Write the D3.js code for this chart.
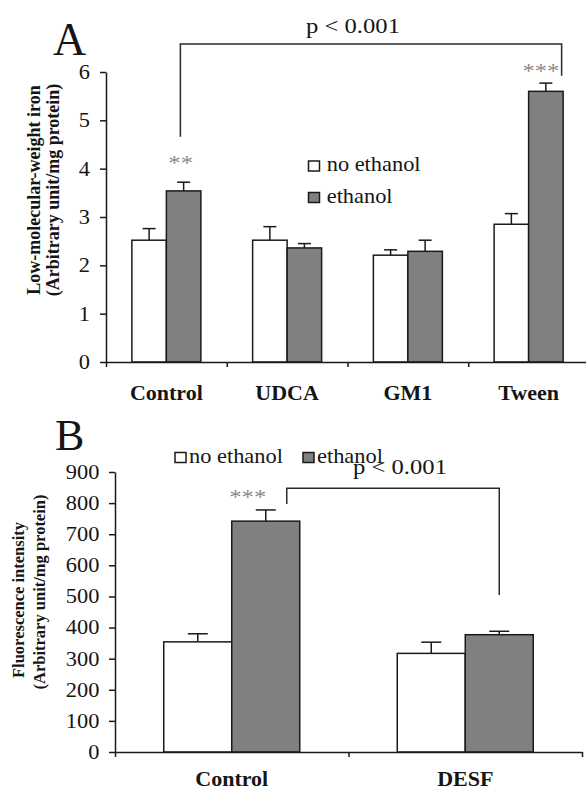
<!DOCTYPE html>
<html>
<head>
<meta charset="utf-8">
<script src="https://cdn.jsdelivr.net/npm/d3@7"></script>
<style>
  body { margin: 0; background: #fff; }
  svg { display: block; }
  text { font-family: "Liberation Serif", "Times New Roman", serif; fill: #151515; }
</style>
</head>
<body>
<div id="chart"></div>
<script>
// ---- data ----
var seriesNames = ["no ethanol", "ethanol"];

// panel A: low-molecular-weight iron
var catsA = ["Control", "UDCA", "GM1", "Tween"];
var meanA_noEth = [2.52, 2.52, 2.21, 2.85];
var errA_noEth  = [0.24, 0.28, 0.11, 0.22];
var meanA_eth   = [3.54, 2.36, 2.29, 5.60];
var errA_eth    = [0.18, 0.09, 0.23, 0.17];
var ticksA = [0, 1, 2, 3, 4, 5, 6];
var starsA = ["**", "", "", "***"];
var bracketA = {from: 0, to: 3, top: 6.58, leftEnd: 4.66, rightEnd: 5.92, label: "p < 0.001"};

// panel B: fluorescence intensity
var catsB = ["Control", "DESF"];
var meanB_noEth = [354, 317];
var errB_noEth  = [26, 36];
var meanB_eth   = [742, 377];
var errB_eth    = [36, 11];
var ticksB = [0, 100, 200, 300, 400, 500, 600, 700, 800, 900];
var starsB = ["***", ""];
var bracketB = {from: 0, to: 1, top: 848, leftEnd: 797, rightEnd: 505, label: "p < 0.001"};

var SX = 1.12; // the figure's regular text is a little wide

var svg = d3.select("#chart").append("svg")
    .attr("width", 586)
    .attr("height", 791);

function sText(g, x, y, str, size, anchor) {
  return g.append("text")
      .attr("transform", "translate(" + x + "," + y + ") scale(" + SX + ",1)")
      .attr("text-anchor", anchor || "start")
      .style("font-size", size + "px")
      .text(str);
}

function drawPanel(p) {
  var g = svg.append("g");
  var x = d3.scaleBand().domain(p.cats).range(p.xRange);
  var s = d3.scaleBand().domain(seriesNames).range([0, x.bandwidth()]).paddingOuter(p.outer);
  var y = d3.scaleLinear().domain(p.yDomain).range(p.yRange);

  var rows = [];
  p.cats.forEach(function(c, i) {
    rows.push({cat: c, ser: seriesNames[0], mean: p.noEth[i], err: p.errNoEth[i]});
    rows.push({cat: c, ser: seriesNames[1], mean: p.eth[i], err: p.errEth[i]});
  });

  // error bars (upper only)
  var eb = g.append("g").attr("stroke", "#1a1a1a").attr("stroke-width", 1.5);
  rows.forEach(function(d) {
    var cx = x(d.cat) + s(d.ser) + s.bandwidth() / 2;
    eb.append("line").attr("x1", cx).attr("x2", cx)
        .attr("y1", y(d.mean)).attr("y2", y(d.mean + d.err));
    eb.append("line").attr("x1", cx - p.cap / 2).attr("x2", cx + p.cap / 2)
        .attr("y1", y(d.mean + d.err)).attr("y2", y(d.mean + d.err));
  });

  g.append("g").selectAll("rect")
      .data(rows)
      .enter()
      .append("rect")
      .attr("x", d => x(d.cat) + s(d.ser))
      .attr("y", d => y(d.mean))
      .attr("width", s.bandwidth())
      .attr("height", d => y(0) - y(d.mean))
      .attr("fill", d => d.ser === "ethanol" ? "#808080" : "#fff")
      .attr("stroke", "#1a1a1a")
      .attr("stroke-width", 1.5);

  // axes
  var bounds = d3.scaleLinear().domain([0, p.cats.length]).range(p.xRange);
  var xAxis = g.append("g")
      .attr("transform", "translate(0," + y(0) + ")")
      .call(d3.axisBottom(bounds).tickValues(d3.range(p.cats.length + 1))
          .tickSize(5).tickSizeOuter(0).tickFormat(""));
  xAxis.selectAll(".tick text").remove();
  var yAxis = g.append("g")
      .attr("transform", "translate(" + p.xRange[0] + ",0)")
      .call(d3.axisLeft(y).tickValues(p.ticks).tickSize(6).tickSizeOuter(0)
          .tickFormat(d3.format("d")));
  [xAxis, yAxis].forEach(function(a) {
    a.selectAll(".domain, .tick line").attr("stroke", "#1a1a1a").attr("stroke-width", 1.5);
  });
  yAxis.selectAll(".tick text")
      .attr("x", p.labelX)
      .attr("transform", "scale(" + SX + ",1)")
      .style("font-size", p.tickFont + "px")
      .style("font-family", '"Liberation Serif", "Times New Roman", serif')
      .attr("fill", "#151515");

  // category labels
  g.append("g").selectAll("text")
      .data(p.cats)
      .enter()
      .append("text")
      .attr("x", d => x(d) + x.bandwidth() / 2)
      .attr("y", p.catY)
      .attr("text-anchor", "middle")
      .style("font-size", "22px")
      .style("font-weight", "bold")
      .text(d => d);

  // y label, two rotated lines
  p.ylLines.forEach(function(t, i) {
    g.append("text")
        .attr("transform", "translate(" + p.ylX[i] + "," + p.ylCenter[i] + ") rotate(-90)")
        .attr("text-anchor", "middle")
        .style("font-size", p.ylFont + "px")
        .style("font-weight", "bold")
        .text(t);
  });

  // significance stars above the ethanol bars
  p.stars.forEach(function(t, i) {
    if (!t) return;
    var cx = x(p.cats[i]) + s("ethanol") + s.bandwidth() / 2 + p.starDx[i];
    sText(g, cx, y(p.eth[i] + p.errEth[i]) - p.starDy[i], t, 22, "middle")
        .style("fill", "#8a8a8a");
  });

  // bracket
  var b = p.bracket;
  var bx1 = x(p.cats[b.from]) + s("ethanol") + p.bracketDx[0];
  var bx2 = x(p.cats[b.to]) + s("ethanol") + p.bracketDx[1];
  g.append("path")
      .attr("d", d3.line()([[bx1, y(b.leftEnd)], [bx1, y(b.top)], [bx2, y(b.top)], [bx2, y(b.rightEnd)]]))
      .attr("fill", "none")
      .attr("stroke", "#2a2a2a")
      .attr("stroke-width", 1.5);
  sText(g, p.pPos[0], p.pPos[1], b.label, 22, "middle");

  // panel letter
  g.append("text").attr("x", p.letterPos[0]).attr("y", p.letterPos[1])
      .style("font-size", p.letterFont + "px").text(p.letter);

  return {g: g, x: x, s: s, y: y};
}

function legendBox(g, x, y, ser) {
  g.append("rect").attr("x", x).attr("y", y).attr("width", 11).attr("height", 10)
      .attr("fill", ser === "ethanol" ? "#808080" : "#fff")
      .attr("stroke", "#1a1a1a").attr("stroke-width", 1.5);
}

var A = drawPanel({
  cats: catsA, noEth: meanA_noEth, errNoEth: errA_noEth, eth: meanA_eth, errEth: errA_eth,
  xRange: [106, 589], outer: 0.75, yDomain: [0, 6], yRange: [362, 72], ticks: ticksA,
  cap: 13, labelX: -14.3, tickFont: 20, catY: 400,
  ylLines: ["Low-molecular-weight iron", "(Arbitrary unit/mg protein)"],
  ylCenter: [190, 190], ylX: [40, 59], ylFont: 18,
  stars: starsA, starDx: [-3, 0, 0, -5], starDy: [12, 0, 0, 5],
  bracket: bracketA, bracketDx: [14, 33], pPos: [353, 33],
  letter: "A", letterPos: [53, 55], letterFont: 46
});

var B = drawPanel({
  cats: catsB, noEth: meanB_noEth, errNoEth: errB_noEth, eth: meanB_eth, errEth: errB_eth,
  xRange: [115, 582], outer: 0.717, yDomain: [0, 900], yRange: [752, 472], ticks: ticksB,
  cap: 20, labelX: -14, tickFont: 20, catY: 786,
  ylLines: ["Fluorescence intensity", "(Arbitrary unit/mg protein)"],
  ylCenter: [600, 592], ylX: [24, 45], ylFont: 16.5,
  stars: starsB, starDx: [-18, 0], starDy: [6, 0],
  bracket: bracketB, bracketDx: [55, 34], pPos: [400, 474],
  letter: "B", letterPos: [55, 450], letterFont: 44
});

// legends
legendBox(A.g, 308.5, 161, "no ethanol");
sText(A.g, 326.7, 170.7, "no ethanol", 20);
legendBox(A.g, 308.5, 192.5, "ethanol");
sText(A.g, 326.7, 203.3, "ethanol", 20);

legendBox(B.g, 175, 452.5, "no ethanol");
sText(B.g, 189, 462.7, "no ethanol", 20);
legendBox(B.g, 303, 452.5, "ethanol");
sText(B.g, 317, 462.7, "ethanol", 20);
</script>
</body>
</html>
